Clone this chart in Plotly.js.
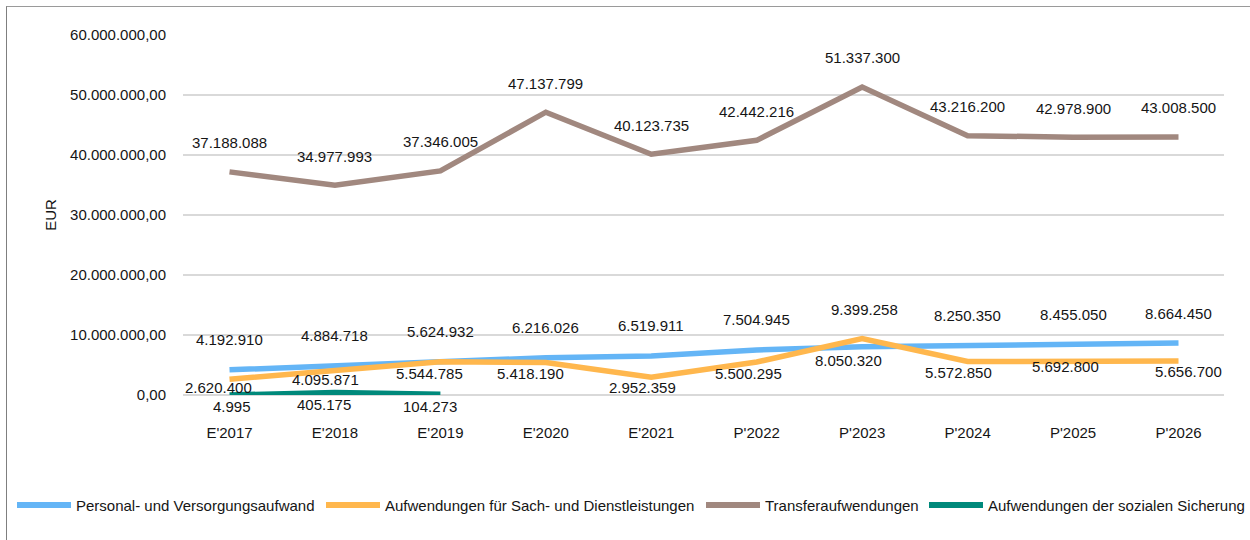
<!DOCTYPE html>
<html><head><meta charset="utf-8">
<script src="https://cdn.plot.ly/plotly-3.0.1.min.js"></script>
<style>
html,body{margin:0;padding:0;background:#fff;}
#wrap{position:relative;width:1250px;height:540px;overflow:hidden;}
#chart{position:absolute;left:0;top:0;width:1250px;height:540px;}
#frame{position:absolute;left:6px;top:6px;width:1300px;height:600px;border-left:1px solid #7f7f7f;border-top:1px solid #9a9a9a;pointer-events:none;}
</style></head><body>
<div id="wrap"><div id="chart"></div><div id="frame"></div></div>
<script>
// ---- data ----
const categories = ["E'2017","E'2018","E'2019","E'2020","E'2021","P'2022","P'2023","P'2024","P'2025","P'2026"];
const seriesNames = ["Personal- und Versorgungsaufwand","Aufwendungen für Sach- und Dienstleistungen","Transferaufwendungen","Aufwendungen der sozialen Sicherung"];
const personal = [4192910, 4884718, 5624932, 6216026, 6519911, 7504945, 8050320, 8250350, 8455050, 8664450];
const sach = [2620400, 4095871, 5544785, 5418190, 2952359, 5500295, 9399258, 5572850, 5692800, 5656700];
const transfer = [37188088, 34977993, 37346005, 47137799, 40123735, 42442216, 51337300, 43216200, 42978900, 43008500];
const sozialCategories = ["E'2017","E'2018","E'2019"];
const sozial = [4995, 405175, 104273];

// ---- label placement (pixels) ----
const personalDx = [0,0,0,0,0,0,-14,0,0,0];
const personalDy = [30,30,30,30,30,30,-14,30,30,30];
const sachDx = [-11,-9,-11,-15,-9,-8,2,-9,-8,10];
const sachDy = [-8,-9,-12,-11,-10,-11,29,-11,-6,-10];
const transferDy = 29;
const sozialDx = [2,-11,-10];
const sozialDy = -12;

const colors = ['#64B5F6','#FFB74D','#A1887F','#00897B'];
const FONT = 'Liberation Sans, Arial, sans-serif';
const TXT = '#151515';

// page geometry
const W = 1250, H = 540;
const M = {l:183, r:26, t:35, b:145};
const PW = W - M.l - M.r, PH = H - M.t - M.b;
const px2x = px => (px - M.l) / PW;
const py2y = py => (H - M.b - py) / PH;

function fmt(v){ return Math.round(v).toString().replace(/\B(?=(\d{3})+(?!\d))/g,'.'); }

function mkTrace(x, y, name, color){
  return {x:x, y:y, name:name, type:'scatter', mode:'lines',
    line:{color:color, width:5.5, shape:'linear'}, hoverinfo:'skip', showlegend:false};
}
const traces = [
  mkTrace(categories, personal, seriesNames[0], colors[0]),
  mkTrace(categories, sach, seriesNames[1], colors[1]),
  mkTrace(categories, transfer, seriesNames[2], colors[2]),
  mkTrace(sozialCategories, sozial, seriesNames[3], colors[3])
];

const annotations = [];
function addLabels(x, y, dx, dy){
  for(let i=0;i<y.length;i++){
    annotations.push({x:x[i], y:y[i], xref:'x', yref:'y', text:fmt(y[i]), showarrow:false,
      xshift:(Array.isArray(dx)?dx[i]:dx), yshift:(Array.isArray(dy)?dy[i]:dy),
      font:{family:FONT, size:15, color:TXT}});
  }
}
addLabels(categories, transfer, 0, transferDy);
addLabels(categories, personal, personalDx, personalDy);
addLabels(categories, sach, sachDx, sachDy);
addLabels(sozialCategories, sozial, sozialDx, sozialDy);

// custom legend: sample line + text
const legendY = 505;
const legendSampleX = [17, 326, 706, 929];
const sampleLen = 54;
const shapes = [];
for(let i=0;i<seriesNames.length;i++){
  shapes.push({type:'line', xref:'paper', yref:'paper',
    x0:px2x(legendSampleX[i]), x1:px2x(legendSampleX[i]+sampleLen),
    y0:py2y(legendY), y1:py2y(legendY),
    line:{color:colors[i], width:6}});
  annotations.push({xref:'paper', yref:'paper', x:px2x(legendSampleX[i]+sampleLen+3), y:py2y(legendY),
    xanchor:'left', yanchor:'middle', text:seriesNames[i], showarrow:false,
    font:{family:FONT, size:15, color:TXT}});
}

const layout = {
  width:W, height:H,
  margin:M,
  paper_bgcolor:'#fff', plot_bgcolor:'#fff',
  separators:',.',
  font:{family:FONT, size:15, color:TXT},
  showlegend:false,
  hovermode:false,
  xaxis:{type:'category', categoryarray:categories, showgrid:false, showline:false, zeroline:false,
    ticks:'', ticklabelstandoff:27, tickfont:{family:FONT, size:15, color:TXT}},
  yaxis:{range:[0,60000000], dtick:10000000, tick0:0, tickformat:',.2f', showgrid:true,
    gridcolor:'#d9d9d9', gridwidth:2, zeroline:true, zerolinecolor:'#d9d9d9', zerolinewidth:2,
    showline:false, ticks:'', ticklabelstandoff:16, automargin:true,
    tickfont:{family:FONT, size:15, color:TXT},
    title:{text:'EUR', standoff:9, font:{family:FONT, size:15, color:TXT}}},
  shapes:shapes,
  annotations:annotations
};
Plotly.newPlot('chart', traces, layout, {staticPlot:true, displayModeBar:false});
</script>
</body></html>
